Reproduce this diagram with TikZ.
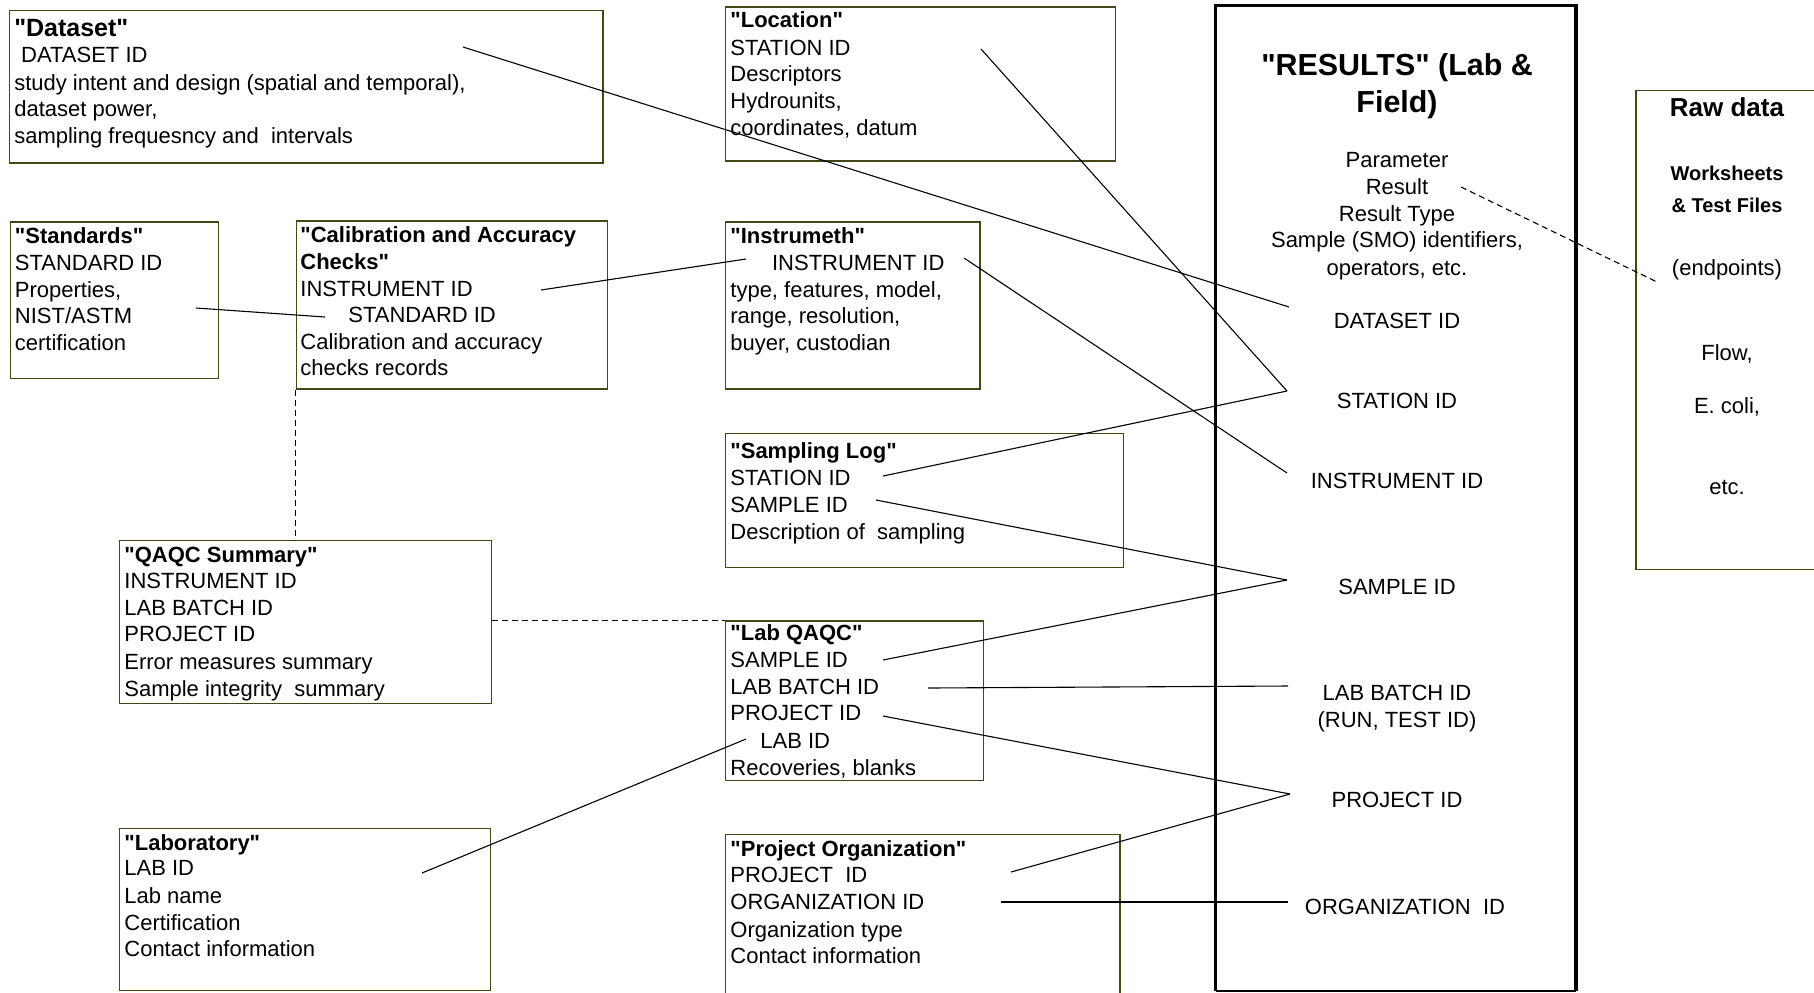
\documentclass[tikz,border=0pt]{standalone}
\usepackage{fontspec}
\newfontfamily\af{Liberation Sans}
\setmainfont{Liberation Sans}
\usetikzlibrary{fit}
\definecolor{boxc}{RGB}{70,70,20}
\tikzset{
  bx/.style={draw=boxc, line width=0.7pt, inner sep=0pt},
  ln/.style={font=\af\fontsize{11}{13}\selectfont, anchor=base west, inner sep=0pt},
  hd/.style={ln, font=\af\fontsize{11}{13}\selectfont\bfseries},
  rc/.style={font=\af\fontsize{11}{13}\selectfont, anchor=base, inner sep=0pt},
  conn/.style={line width=0.55pt, black},
  dconn/.style={line width=0.55pt, black, dash pattern=on 3pt off 2pt}
}
\newcommand\mkbox[5]{\node[bx, fit={(#2,#3)(#4,#5)}] (#1) {};}
\begin{document}
\begin{tikzpicture}[x=0.5pt,y=-0.5pt]
\useasboundingbox (0,0) rectangle (1814,992);
\clip (0,0) rectangle (1814,992);
\fill[white] (0,0) rectangle (1814,992);

% boxes
\mkbox{ds}{9.3}{10.4}{602.8}{163.1}
\mkbox{loc}{725.4}{6.9}{1115.3}{160.8}
\mkbox{std}{10.4}{222.1}{218.7}{378.3}
\mkbox{cal}{296.2}{221}{607.4}{388.8}
\mkbox{ins}{725.4}{222.1}{980}{388.8}
\mkbox{sl}{725.4}{433.7}{1123.5}{567.5}
\mkbox{qs}{119.2}{540.3}{491.7}{703.5}
\mkbox{lq}{725.4}{621}{983.5}{780.5}
\mkbox{lab}{119.2}{828.4}{490.6}{990.6}
\mkbox{po}{725.4}{834.2}{1120}{1010}
\mkbox{raw}{1636}{90.2}{1830}{569.2}
\node[inner sep=0pt, fit={(1216,5.8)(1575.8,990.6)}] (res) {};
\draw[line width=1.8pt] (res.south west) -- (res.north west) -- (res.north east) -- (res.south east);
\draw[line width=0.6pt] (res.south west) -- (res.south east);

% Dataset
\node[hd, font=\af\fontsize{12.5}{15}\selectfont\bfseries] (ds1) at (13.9,36.8) {"Dataset"};
\node[ln] (ds2) at (20.8,62.3) {DATASET ID};
\node[ln] (ds3) at (13.9,90) {study intent and design (spatial and temporal),};
\node[ln] (ds4) at (13.9,116.7) {dataset power,};
\node[ln] (ds5) at (13.9,143.3) {sampling frequesncy and\ \ intervals};

% Location
\node[hd] (loc1) at (730,27.6) {"Location"};
\node[ln] (loc2) at (730,55.3) {STATION ID};
\node[ln] (loc3) at (730,81.9) {Descriptors};
\node[ln] (loc4) at (730,108.6) {Hydrounits,};
\node[ln] (loc5) at (730,135.2) {coordinates, datum};

% Standards
\node[hd] (std1) at (14.5,243.9) {"Standards"};
\node[ln] (std2) at (14.5,270.5) {STANDARD ID};
\node[ln] (std3) at (14.5,297.2) {Properties,};
\node[ln] (std4) at (14.5,323.8) {NIST/ASTM};
\node[ln] (std5) at (14.5,350.4) {certification};

% Calibration
\node[hd] (cal1) at (300,242.8) {"Calibration and Accuracy};
\node[hd] (cal2) at (300,269.4) {Checks"};
\node[ln] (cal3) at (300,296) {INSTRUMENT ID};
\node[ln] (cal4) at (348,322.6) {STANDARD ID};
\node[ln] (cal5) at (300,349.2) {Calibration and accuracy};
\node[ln] (cal6) at (300,375.8) {checks records};

% Instrumeth
\node[hd] (ins1) at (730,243.9) {"Instrumeth"};
\node[ln] (ins2) at (771.7,270.5) {INSTRUMENT ID};
\node[ln] (ins3) at (730,297.2) {type, features, model,};
\node[ln] (ins4) at (730,323.8) {range, resolution,};
\node[ln] (ins5) at (730,350.4) {buyer, custodian};

% Sampling Log
\node[hd] (sl1) at (730,458) {"Sampling Log"};
\node[ln] (sl2) at (730,485.7) {STATION ID};
\node[ln] (sl3) at (730,512.4) {SAMPLE ID};
\node[ln] (sl4) at (730,539) {Description of\ \ sampling};

% QAQC Summary
\node[hd] (qs1) at (124,562.1) {"QAQC Summary"};
\node[ln] (qs2) at (124,588.7) {INSTRUMENT ID};
\node[ln] (qs3) at (124,615.3) {LAB BATCH ID};
\node[ln] (qs4) at (124,641.9) {PROJECT ID};
\node[ln] (qs5) at (124,669.7) {Error measures summary};
\node[ln] (qs6) at (124,696.3) {Sample integrity\ \ summary};

% Lab QAQC
\node[hd] (lq1) at (730,640.8) {"Lab QAQC"};
\node[ln] (lq2) at (730,667.4) {SAMPLE ID};
\node[ln] (lq3) at (730,694) {LAB BATCH ID};
\node[ln] (lq4) at (730,720.6) {PROJECT ID};
\node[ln] (lq5) at (760,748.4) {LAB ID};
\node[ln] (lq6) at (730,775) {Recoveries, blanks};

% Laboratory
\node[hd] (lab1) at (124,850.2) {"Laboratory"};
\node[ln] (lab2) at (124,875.7) {LAB ID};
\node[ln] (lab3) at (124,903.4) {Lab name};
\node[ln] (lab4) at (124,930) {Certification};
\node[ln] (lab5) at (124,956.6) {Contact information};

% Project Organization
\node[hd] (po1) at (730,856) {"Project Organization"};
\node[ln] (po2) at (730,882.6) {PROJECT\ \ ID};
\node[ln] (po3) at (730,909.2) {ORGANIZATION ID};
\node[ln] (po4) at (730,937) {Organization type};
\node[ln] (po5) at (730,963.6) {Contact information};

% Results
\node[rc, font=\af\fontsize{15.2}{18}\selectfont\bfseries] (rt1) at (1397,75.5) {"RESULTS" (Lab \&};
\node[rc, font=\af\fontsize{15.2}{18}\selectfont\bfseries] (rt2) at (1397,112.5) {Field)};
\node[rc] (r1) at (1397,167.6) {Parameter};
\node[rc] (r2) at (1397,194.2) {Result};
\node[rc] (r3) at (1397,221.9) {Result Type};
\node[rc] (r4) at (1397,247.4) {Sample (SMO) identifiers,};
\node[rc] (r5) at (1397,275.2) {operators, etc.};
\node[rc] (r6) at (1397,328.4) {DATASET ID};
\node[rc] (r7) at (1397,408.2) {STATION ID};
\node[rc] (r8) at (1397,488.1) {INSTRUMENT ID};
\node[rc] (r9) at (1397,594.5) {SAMPLE ID};
\node[rc] (r10) at (1397,700.9) {LAB BATCH ID};
\node[rc] (r11) at (1397,727.6) {(RUN, TEST ID)};
\node[rc] (r12) at (1397,807.4) {PROJECT ID};
\node[rc] (r13) at (1405,914.9) {ORGANIZATION\ \ ID};

% Raw data
\node[rc, font=\af\fontsize{13}{15}\selectfont\bfseries] (rw1) at (1727,116.9) {Raw data};
\node[rc, font=\af\fontsize{10}{12}\selectfont\bfseries] (rw2) at (1727,180.8) {Worksheets};
\node[rc, font=\af\fontsize{10}{12}\selectfont\bfseries] (rw3) at (1727,212) {\& Test Files};
\node[rc] (rw4) at (1727,275.2) {(endpoints)};
\node[rc] (rw5) at (1727,360.8) {Flow,};
\node[rc] (rw6) at (1727,413.9) {E. coli,};
\node[rc] (rw7) at (1727,494.9) {etc.};

% connector end points
\coordinate (ds-o) at (463,47);
\coordinate (r-ds) at (1289,307);
\coordinate (loc-o) at (981,49);
\coordinate (r-st) at (1287,391);
\coordinate (sl-st) at (883,476);
\coordinate (ins-o) at (964,258);
\coordinate (r-in) at (1287,473);
\coordinate (cal-o) at (541,290);
\coordinate (ins-i) at (746,259);
\coordinate (std-o) at (196,308);
\coordinate (cal-i) at (325,317);
\coordinate (sl-sa) at (876,500);
\coordinate (r-sa) at (1287,580);
\coordinate (lq-sa) at (883,660);
\coordinate (lq-lb) at (928,688);
\coordinate (r-lb) at (1288,686);
\coordinate (lq-pr) at (883,716);
\coordinate (r-pr) at (1290,794);
\coordinate (po-pr) at (1011,872);
\coordinate (po-or) at (1001,902);
\coordinate (r-or) at (1288,902);
\coordinate (lab-o) at (422,873);
\coordinate (lq-lab) at (746,739);
\coordinate (r-res) at (1461,187);
\coordinate (raw-i) at (1657,282);

% connectors
\draw[conn] (ds-o) -- (r-ds);
\draw[conn] (loc-o) -- (r-st);
\draw[conn] (sl-st) -- (r-st);
\draw[conn] (ins-o) -- (r-in);
\draw[conn] (cal-o) -- (ins-i);
\draw[conn] (std-o) -- (cal-i);
\draw[conn] (sl-sa) -- (r-sa);
\draw[conn] (lq-sa) -- (r-sa);
\draw[conn] (lq-lb) -- (r-lb);
\draw[conn] (lq-pr) -- (r-pr);
\draw[conn] (po-pr) -- (r-pr);
\draw[conn] (po-or) -- (r-or);
\draw[conn] (lab-o) -- (lq-lab);
\draw[dconn] (r-res) -- (raw-i);
\draw[dconn] (cal.south west) -- (cal.south west |- qs.north);
\draw[dconn] (lq.north west -| qs.east) -- (lq.north west);
\end{tikzpicture}
\end{document}
